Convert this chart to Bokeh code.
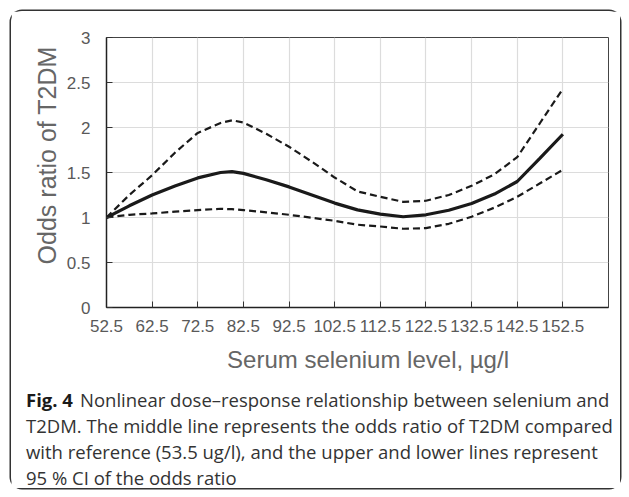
from bokeh.plotting import figure
from bokeh.models import Label, FixedTicker, Range1d
from bokeh.layouts import column, row
from bokeh.embed import file_html
from bokeh.resources import INLINE
import math

# ---- data ----
selenium = [52.5, 57.5, 62.5, 67.5, 72.5, 77.5, 80.0, 82.5, 87.5, 92.5, 97.5,
            102.5, 107.5, 112.5, 117.5, 122.5, 127.5, 132.5, 137.5, 142.5, 147.5, 152.5]
odds_ratio = [1.00, 1.13, 1.25, 1.35, 1.44, 1.50, 1.51, 1.49, 1.42, 1.34, 1.25,
              1.16, 1.085, 1.037, 1.008, 1.03, 1.08, 1.156, 1.26, 1.40, 1.66, 1.925]
ci_upper = [1.00, 1.25, 1.47, 1.72, 1.94, 2.05, 2.08, 2.056, 1.93, 1.786, 1.62,
            1.444, 1.29, 1.23, 1.174, 1.186, 1.25, 1.352, 1.48, 1.67, 2.05, 2.43]
ci_lower = [1.00, 1.03, 1.045, 1.065, 1.082, 1.097, 1.092, 1.082, 1.058, 1.03, 0.997,
            0.963, 0.92, 0.90, 0.875, 0.882, 0.93, 1.008, 1.11, 1.23, 1.38, 1.53]

x_ticks = [52.5, 62.5, 72.5, 82.5, 92.5, 102.5, 112.5, 122.5, 132.5, 142.5, 152.5]
y_ticks = [0, 0.5, 1, 1.5, 2, 2.5, 3]
y_tick_labels = ["0", "0.5", "1", "1.5", "2", "2.5", "3"]

x_title = "Serum selenium level, µg/l"
y_title = "Odds ratio of T2DM"
caption_bold = "Fig. 4"
caption_lines = [
    "Nonlinear dose\u2013response relationship between selenium and",
    "T2DM. The middle line represents the odds ratio of T2DM compared",
    "with reference (53.5 ug/l), and the upper and lower lines represent",
    "95 % CI of the odds ratio",
]

TICK_FONT = "Liberation Sans"
CAP_FONT = "Open Sans"
TITLE_COLOR = "#666666"

# ---- layout sizes (content area inside the rounded border) ----
W_CONTENT = 609
H_TOP = 330
H_BOTTOM = 147
W_LEFT = 50
W_CHART = W_CONTENT - W_LEFT


def blank_fig(w, h):
    f = figure(width=w, height=h, output_backend="svg", toolbar_location=None,
               x_range=Range1d(0, w), y_range=Range1d(0, h),
               x_axis_type=None, y_axis_type=None,
               min_border=0, min_border_left=0, min_border_right=0,
               min_border_top=0, min_border_bottom=0)
    f.outline_line_color = None
    f.xgrid.visible = False
    f.ygrid.visible = False
    f.background_fill_color = "white"
    f.border_fill_color = "white"
    return f


# ---- main chart ----
p = figure(width=W_CHART, height=H_TOP, output_backend="svg", toolbar_location=None,
           x_range=Range1d(52.5, 162.5), y_range=Range1d(0, 3),
           min_border_left=45, min_border_right=12, min_border_top=26,
           min_border_bottom=34)
p.background_fill_color = "white"
p.border_fill_color = "white"
p.outline_line_color = "#444444"
p.outline_line_width = 1

p.xaxis.ticker = FixedTicker(ticks=x_ticks)
p.yaxis.ticker = FixedTicker(ticks=y_ticks)
p.yaxis.major_label_overrides = {t: l for t, l in zip(y_ticks, y_tick_labels)}

for ax in (p.xaxis[0], p.yaxis[0]):
    ax.axis_line_color = "#222222"
    ax.axis_line_width = 1.5
    ax.major_tick_in = 6
    ax.major_tick_out = 0
    ax.major_tick_line_color = "#333333"
    ax.minor_tick_line_color = None
    ax.major_label_text_font = TICK_FONT
    ax.major_label_text_font_size = "17px"
    ax.major_label_text_color = "#595959"
p.xaxis.major_label_standoff = 12
p.yaxis.major_label_standoff = 16

p.xgrid.grid_line_color = "#dcdcdc"
p.ygrid.grid_line_color = "#dcdcdc"
p.xgrid.grid_line_width = 1.2
p.ygrid.grid_line_width = 1.2

p.line(selenium, ci_upper, line_color="#1a1a1a", line_width=2.2, line_dash="7 4")
p.line(selenium, ci_lower, line_color="#1a1a1a", line_width=2.2, line_dash="7 4")
p.line(selenium, odds_ratio, line_color="#1a1a1a", line_width=3.2)

# ---- y-axis title panel ----
yf = blank_fig(W_LEFT, H_TOP)
yf.add_layout(Label(x=35.5, y=186, text=y_title, angle=math.pi / 2,
                    text_align="center", text_baseline="middle",
                    text_font=TICK_FONT, text_font_size="25px",
                    text_color=TITLE_COLOR))

# ---- x-axis title + caption panel ----
bf = blank_fig(W_CONTENT, H_BOTTOM)
bf.add_layout(Label(x=356.5, y=129.5, text=x_title,
                    text_align="center", text_baseline="middle",
                    text_font=TICK_FONT, text_font_size="24px",
                    text_color=TITLE_COLOR))
baselines = [89, 63, 37, 11.5]
bf.add_layout(Label(x=14.5, y=baselines[0], text=caption_bold,
                    text_align="left", text_baseline="alphabetic",
                    text_font=CAP_FONT, text_font_style="bold",
                    text_font_size="18.5px", text_color="#1a1a1a"))
for i, line in enumerate(caption_lines):
    bf.add_layout(Label(x=68.5 if i == 0 else 14.5, y=baselines[i], text=line,
                        text_align="left", text_baseline="alphabetic",
                        text_font=CAP_FONT, text_font_size="18.5px",
                        text_color="#333333"))

layout = column(row(yf, p, spacing=0), bf, spacing=0,
                styles={"box-shadow": "0 0 0 1.5px #333333", "border-radius": "11px",
                        "margin-left": "10.5px", "margin-top": "10.5px"})

open("out.html", "w").write(file_html(layout, INLINE))
